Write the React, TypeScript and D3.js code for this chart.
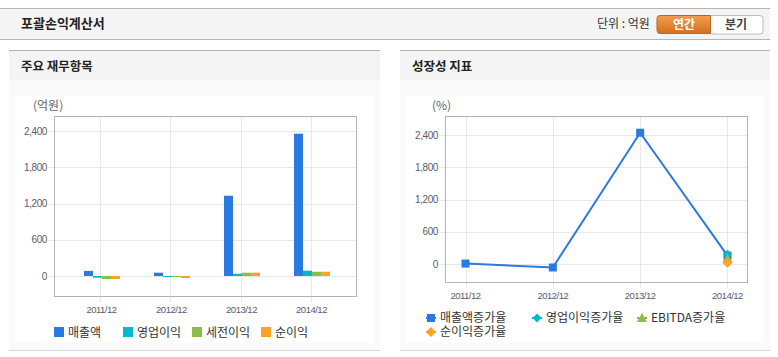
import React from "react";
import * as d3 from "d3";

const categories = ["2011/12", "2012/12", "2013/12", "2014/12"];
const barSeriesNames = ["매출액", "영업이익", "세전이익", "순이익"];
const revenue = [85, 55, 1332, 2360];
const operatingProfit = [-28, -15, 38, 88];
const pretaxProfit = [-50, -15, 55, 71];
const netProfit = [-50, -33, 55, 71];
const barTicks = [0, 600, 1200, 1800, 2400];

const lineSeriesNames = ["매출액증가율", "영업이익증가율", "EBITDA증가율", "순이익증가율"];
const revenueGrowth: (number | null)[] = [13, -60, 2443, 160];
const opGrowth: (number | null)[] = [null, null, null, 185];
const ebitdaGrowth: (number | null)[] = [null, null, null, 110];
const netGrowth: (number | null)[] = [null, null, null, 30];
const lineTicks = [0, 600, 1200, 1800, 2400];

const colors = ["#2a7ae2", "#00b9cf", "#8bbd47", "#fba227"];
const KR = "'Noto Sans CJK KR', 'Noto Sans', sans-serif";
const NUM = "'Liberation Sans', Arial, sans-serif";

function Panel({ x, w, title }: { x: number; w: number; title: string }) {
  return (
    <g>
      <rect x={x} y={50} width={w} height={1} fill="#b4b4b4" />
      <rect x={x} y={51} width={w} height={29} fill="#f4f4f4" />
      <rect x={x} y={80} width={w} height={270} fill="#fafafa" />
      <rect x={x + 6} y={96} width={w - 12} height={247} fill="#ffffff" />
      <rect x={x} y={350} width={w} height={1} fill="#d6d6d6" />
      <text x={x + 12} y={70.5} fontFamily={KR} fontSize={12.5} fontWeight="bold" fill="#222">{title}</text>
    </g>
  );
}

function BarChart() {
  const L = 54, R = 357, T = 116, B = 297;
  const x = d3.scalePoint<string>().domain(categories).range([L, R]).padding(0.664);
  const y = d3.scaleLinear().domain([-348, 2654]).range([B, T]);
  const inner = d3.scaleBand<string>().domain(barSeriesNames).range([-16.5, 19.5]);
  const series = [revenue, operatingProfit, pretaxProfit, netProfit];
  return (
    <g>
      <text x={33} y={110} fontFamily={KR} fontSize={12} fill="#666">(억원)</text>
      {barTicks.map((t) => (
        <g key={t}>
          <line x1={L - 6} x2={R} y1={Math.round(y(t)) + 0.5} y2={Math.round(y(t)) + 0.5} stroke="#e8e8e8" />
          <text x={47} y={y(t)} dy="0.35em" textAnchor="end" fontFamily={NUM} fontSize={10} letterSpacing={-0.4} fill="#5c5c6c">{d3.format(",")(t)}</text>
        </g>
      ))}
      {categories.map((c) => (
        <g key={c}>
          <line x1={Math.round(x(c)!) + 0.5} x2={Math.round(x(c)!) + 0.5} y1={T} y2={B + 5} stroke="#e8e8e8" />
          <text x={x(c)! + 1} y={312.5} textAnchor="middle" fontFamily={NUM} fontSize={9.5} letterSpacing={-0.5} fill="#5c5c6c">{c}</text>
        </g>
      ))}
      {series.map((vals, si) =>
        vals.map((v, i) => {
          const x0 = Math.round(x(categories[i])! + inner(barSeriesNames[si])!);
          const y0 = y(Math.max(0, v));
          const y1 = y(Math.min(0, v));
          return <rect key={si + "-" + i} x={x0} y={y0} width={inner.bandwidth()} height={Math.max(1, y1 - y0)} fill={colors[si]} />;
        })
      )}
      <rect x={L + 0.5} y={T + 0.5} width={R - L - 1} height={B - T - 1} fill="none" stroke="#b4b4b4" />
      {barSeriesNames.map((n, i) => {
        const lx = [54, 123, 192, 261][i];
        return (
          <g key={n}>
            <rect x={lx} y={327} width={10} height={10} fill={colors[i]} />
            <text x={lx + 14} y={336.5} fontFamily={KR} fontSize={12} fill="#333">{n}</text>
          </g>
        );
      })}
    </g>
  );
}

function Marker({ type, cx, cy, color }: { type: number; cx: number; cy: number; color: string }) {
  if (type === 0) return <rect x={cx - 4} y={cy - 4} width={8} height={8} fill={color} />;
  if (type === 1) return <path d={`M${cx},${cy - 4.5}L${cx + 4.5},${cy}L${cx},${cy + 4.5}L${cx - 4.5},${cy}Z`} fill={color} />;
  if (type === 2) return <path d={`M${cx},${cy - 5}L${cx + 5},${cy + 4}L${cx - 5},${cy + 4}Z`} fill={color} />;
  return <path d={`M${cx},${cy - 5}L${cx + 5},${cy}L${cx},${cy + 5}L${cx - 5},${cy}Z`} fill={color} />;
}

function LineChart() {
  const L = 445, R = 748, T = 116, B = 283;
  const x = d3.scalePoint<string>().domain(categories).range([L, R]).padding(0.235);
  const y = d3.scaleLinear().domain([-348, 2754]).range([B, T]);
  const series = [revenueGrowth, opGrowth, ebitdaGrowth, netGrowth];
  const line = d3
    .line<number | null>()
    .defined((d) => d !== null)
    .x((_, i) => x(categories[i])!)
    .y((d) => y(d as number));
  const legendPos = [
    [426, 322],
    [532, 322],
    [637, 322],
    [426, 336],
  ];
  return (
    <g>
      <text x={432} y={110} fontFamily={KR} fontSize={12} fill="#666">(%)</text>
      {lineTicks.map((t) => (
        <g key={t}>
          <line x1={L - 6} x2={R} y1={Math.round(y(t)) + 0.5} y2={Math.round(y(t)) + 0.5} stroke="#e8e8e8" />
          <text x={438} y={y(t)} dy="0.35em" textAnchor="end" fontFamily={NUM} fontSize={10} letterSpacing={-0.4} fill="#5c5c6c">{d3.format(",")(t)}</text>
        </g>
      ))}
      {categories.map((c) => (
        <g key={c}>
          <line x1={Math.round(x(c)!) + 0.5} x2={Math.round(x(c)!) + 0.5} y1={T} y2={B + 5} stroke="#e8e8e8" />
          <text x={x(c)!} y={299} textAnchor="middle" fontFamily={NUM} fontSize={9.5} letterSpacing={-0.5} fill="#5c5c6c">{c}</text>
        </g>
      ))}
      <rect x={L + 0.5} y={T + 0.5} width={R - L - 1} height={B - T - 1} fill="none" stroke="#b4b4b4" />
      {series.map((vals, si) => (
        <g key={si}>
          <path d={line(vals) || ""} fill="none" stroke={colors[si]} strokeWidth={2} />
          {vals.map((v, i) =>
            v === null ? null : <Marker key={i} type={si} cx={x(categories[i])!} cy={y(v)} color={colors[si]} />
          )}
        </g>
      ))}
      {lineSeriesNames.map((n, i) => {
        const [lx, ly] = legendPos[i];
        return (
          <g key={n}>
            <line x1={lx} x2={lx + 10} y1={ly - 4} y2={ly - 4} stroke={colors[i]} strokeWidth={2} />
            <Marker type={i} cx={lx + 5} cy={ly - 4} color={colors[i]} />
            <text x={lx + 14} y={ly} fontFamily={KR} fontSize={12} fill="#333">{n}</text>
          </g>
        );
      })}
    </g>
  );
}

export default function App() {
  return (
    <div style={{ position: "absolute", left: 0, top: 0 }}>
      <svg width={778} height={357} style={{ display: "block", background: "#fff" }}>
        <defs>
          <linearGradient id="orangeBtn" x1="0" y1="0" x2="0" y2="1">
            <stop offset="0" stopColor="#f39d52" />
            <stop offset="1" stopColor="#d5701d" />
          </linearGradient>
        </defs>
        <rect x={0} y={8} width={770} height={1} fill="#b4b4b4" />
        <rect x={0} y={9} width={770} height={30} fill="#f4f4f4" />
        <rect x={0} y={39} width={770} height={1} fill="#b4b4b4" />
        <text x={21} y={28} fontFamily={KR} fontSize={13} fontWeight="bold" fill="#222">포괄손익계산서</text>
        <text x={597} y={28} fontFamily={KR} fontSize={12} fill="#333">단위 : 억원</text>
        <path d="M710.5,15.5 H760 a3,3 0 0 1 3,3 V31 a3,3 0 0 1 -3,3 H710.5 Z" fill="#fff" stroke="#bbb" />
        <path d="M660,15.5 H710.5 V33.5 H660 a3,3 0 0 1 -3,-3 V18.5 a3,3 0 0 1 3,-3 Z" fill="url(#orangeBtn)" stroke="#c0651b" />
        <text x={684} y={29} textAnchor="middle" fontFamily={KR} fontSize={12} fontWeight="bold" fill="#fff">연간</text>
        <text x={736} y={29} textAnchor="middle" fontFamily={KR} fontSize={12} fontWeight="bold" fill="#444">분기</text>
        <Panel x={9} w={371} title="주요 재무항목" />
        <Panel x={400} w={370} title="성장성 지표" />
        <BarChart />
        <LineChart />
      </svg>
    </div>
  );
}
